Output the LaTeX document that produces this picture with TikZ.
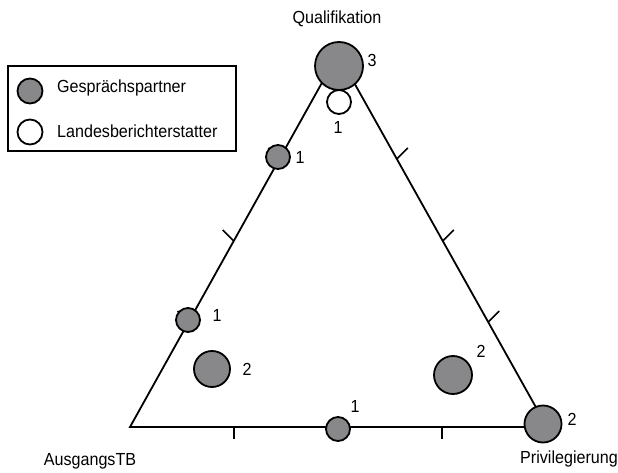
\documentclass[tikz,border=0pt]{standalone}
\usepackage{fontspec}
\setmainfont[FakeStretch=0.92]{Liberation Sans}
\definecolor{dotgray}{RGB}{136,136,138}
\begin{document}
\begin{tikzpicture}[x=1pt,y=-1pt,
  edge/.style={line width=1.8pt,line join=miter},
  tick/.style={line width=1.6pt},
  dot/.style={circle,draw=black,line width=1.8pt,fill=dotgray,inner sep=0pt,minimum size=#1},
  wdot/.style={circle,draw=black,line width=1.8pt,fill=white,inner sep=0pt,minimum size=#1},
  lbl/.style={inner sep=0pt,font=\fontsize{17.5}{20}\selectfont},
  num/.style={inner sep=0pt,font=\fontsize{17.5}{20}\selectfont}]
\useasboundingbox (0,0) rectangle (618,473);
% vertices
\coordinate (L) at (130,427);
\coordinate (R) at (547,427);
\coordinate (T) at (338,54);
\draw[edge] (L) -- (R) -- (T) -- cycle;
% tick bases
\coordinate (l1) at (188.5,322);
\coordinate (l2) at (233.7,241);
\coordinate (l3) at (279.4,159);
\coordinate (r1) at (488.2,322);
\coordinate (r2) at (442.8,241);
\coordinate (r3) at (396.8,159);
\coordinate (b1) at (234,427);
\coordinate (b2) at (338,427);
\coordinate (b3) at (442,427);
\foreach \p in {l1,l2,l3} \draw[tick] (\p) -- ++(-11,-11);
\foreach \p in {r1,r2,r3} \draw[tick] (\p) -- ++(11,-11);
\foreach \p in {b1,b2,b3} \draw[tick] (\p) -- ++(0,12);
% data points
\node[dot=48pt] (q3) at (339,66) {};
\node[wdot=24pt] (q1) at (339,102) {};
\node[dot=24pt] (a1) at (278,157) {};
\node[dot=24pt] (a2) at (188,320) {};
\node[dot=36pt] (c1) at (212,369) {};
\node[dot=38pt] (c2) at (453,375) {};
\node[dot=24pt] (d1) at (338,429) {};
\node[dot=37pt] (p2) at (543,424) {};
% numbers
\node[num] (n3) at (372,60) {3};
\node[num] (n1a) at (338,127) {1};
\node[num] (n1b) at (300,157) {1};
\node[num] (n1c) at (217,315) {1};
\node[num] (n2a) at (247,369) {2};
\node[num] (n2b) at (481,351) {2};
\node[num] (n1d) at (355,406) {1};
\node[num] (n2c) at (572,419) {2};
% axis labels
\node[lbl,anchor=base] (tq) at (337,24) {Qualifikation};
\node[lbl,anchor=base] (ta) at (90,465) {AusgangsTB};
\node[lbl,anchor=base] (tp) at (569,463) {Privilegierung};
% legend
\node[draw=black,line width=1.6pt,inner sep=0pt,minimum width=228pt,minimum height=85pt,anchor=north west] (leg) at (7,65) {};
\node[dot=25pt] (lg1) at (30,91) {};
\node[wdot=25pt] (lg2) at (30,132) {};
\node[lbl,anchor=base west] (lt1) at (57,93) {Gesprächspartner};
\node[lbl,anchor=base west] (lt2) at (57,138) {Landesberichterstatter};
\end{tikzpicture}
\end{document}
